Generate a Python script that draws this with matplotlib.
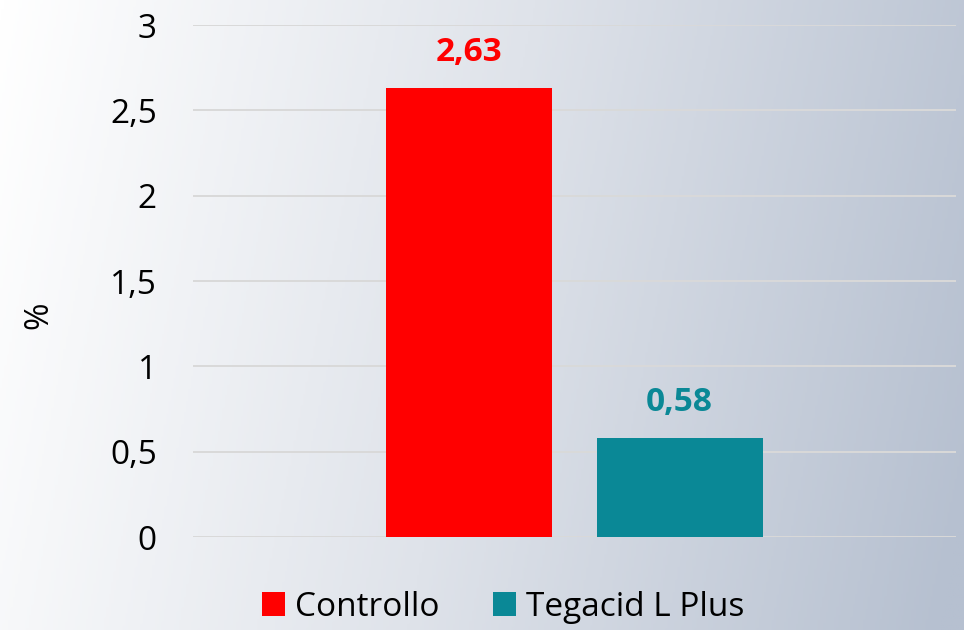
import numpy as np
from matplotlib import pyplot as plt
from matplotlib.colors import LinearSegmentedColormap

series = ['Controllo', 'Tegacid L Plus']
values = [2.63, 0.58]
colors = ['#ff0000', '#0a8896']
yticks = [0, 0.5, 1, 1.5, 2, 2.5, 3]
ytick_labels = ['0', '0,5', '1', '1,5', '2', '2,5', '3']
value_labels = ['2,63', '0,58']

plt.rcParams['font.family'] = ['Open Sans', 'DejaVu Sans']

fig = plt.figure(figsize=(9.64, 6.3), dpi=100)

# sfondo sfumato
bg = fig.add_axes([0, 0, 1, 1], zorder=-10)
gx, gy = np.meshgrid(np.linspace(0, 1, 400), np.linspace(0, 1, 300))
grad = np.clip(gx * 0.9 + gy * 0.12, 0, 1)
cmap = LinearSegmentedColormap.from_list('bg', ['#ffffff', '#dfe3ea', '#b6c0d0'])
bg.imshow(grad, cmap=cmap, aspect='auto', extent=[0, 1, 0, 1], origin='upper')
bg.axis('off')

ax = fig.add_axes([0.2002, 0.1476, 0.7915, 0.8127])
ax.patch.set_alpha(0)

w = 0.435
offs = [-0.2755, 0.2755]
for i in range(len(series)):
    ax.bar(offs[i], values[i], width=w, color=colors[i], label=series[i], zorder=3)
    ax.text(offs[i], values[i] + 0.21, value_labels[i], ha='center', va='center',
            color=colors[i], fontsize=24, fontweight='bold')

ax.set_xlim(-1, 1)
ax.set_ylim(0, 3)
ax.set_yticks(yticks)
ax.set_yticklabels(ytick_labels, fontsize=24)
ax.set_xticks([])
ax.tick_params(axis='y', length=0, pad=26)
ax.grid(axis='y', color='#d9d9d9', linewidth=1.4, zorder=0)
for s in ax.spines.values():
    s.set_visible(False)

fig.text(39 / 964, 1 - 315 / 630, '%', rotation=90, fontsize=24,
         ha='center', va='center')

fig.legend(loc='center', bbox_to_anchor=(0.522, 0.036), ncol=2, frameon=False,
           fontsize=24, handlelength=0.7, handleheight=0.7, handletextpad=0.3,
           columnspacing=1.6)

fig.savefig('out.png', dpi=100)
